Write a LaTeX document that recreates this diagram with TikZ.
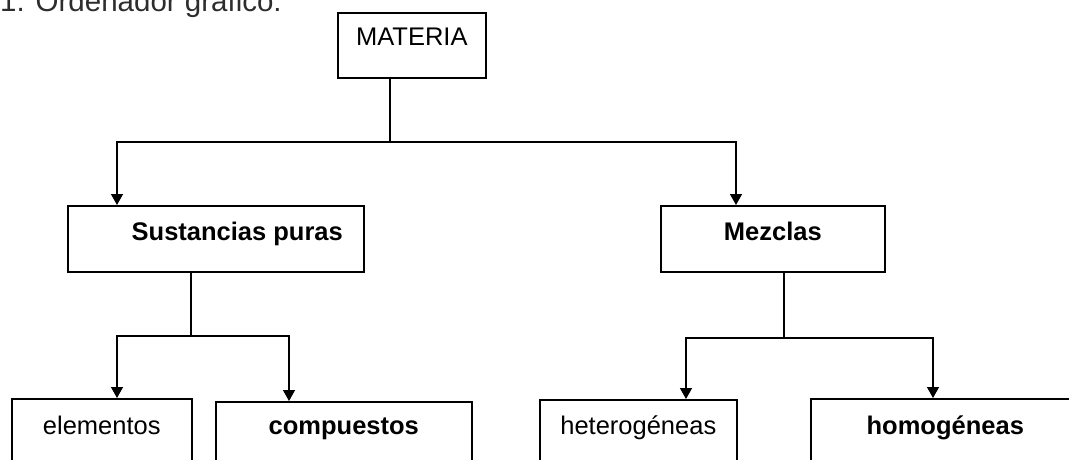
\documentclass[tikz,border=0pt]{standalone}
\usepackage{fontspec}
\setmainfont{Liberation Sans}
\usetikzlibrary{arrows.meta}
\definecolor{titulogris}{RGB}{45,45,45}
\tikzset{
	caja/.style={draw, line width=1.6pt, inner xsep=0pt, inner ysep=0pt,
		minimum height=0pt, anchor=north west, font=\fontsize{25.5}{30}\selectfont},
	linea/.style={line width=1.4pt},
	flecha/.style={line width=1.4pt, -{Triangle[width=12pt,length=11pt]}}
}
\begin{document}
\begin{tikzpicture}[x=1pt, y=-1pt]
	\useasboundingbox (0,0) rectangle (1069,460);
	% title, cut by the top edge
	\node[anchor=base west, inner sep=0pt, text=titulogris,
		font=\fontsize{29.5}{35}\selectfont] (titulo) at (0,12) {1. Ordenador gráfico:};
	\node[caja, minimum width=148pt, text height=33pt, text depth=32pt] (materia) at (337,12) {MATERIA};
	\node[caja, minimum width=296pt, text height=35pt, text depth=31pt] (sust) at (67,205)
		{\bfseries\hspace*{43pt}Sustancias puras};
	\node[caja, minimum width=224pt, text height=35pt, text depth=31pt] (mezc) at (660,205) {\bfseries Mezclas};
	\node[caja, minimum width=180pt, text height=36pt, text depth=40pt] (elem) at (11,398) {elementos};
	\node[caja, minimum width=256pt, text height=33pt, text depth=40pt] (comp) at (215,401) {\bfseries compuestos};
	\node[caja, minimum width=197pt, text height=35pt, text depth=40pt] (hete) at (539,399) {heterogéneas};
	\node[caja, minimum width=269pt, text height=36pt, text depth=40pt] (homo) at (810,398) {\bfseries homogéneas};
	% MATERIA -> two branches
	\coordinate (j1) at (390,142);
	\draw[linea] (materia.south -| j1) -- (j1);
	\draw[flecha] (j1) -| ([xshift=50pt]sust.north west);
	\draw[flecha] (j1) -| ([xshift=76pt]mezc.north west);
	% Sustancias puras
	\coordinate (j2) at (191,336);
	\draw[linea] (sust.south -| j2) -- (j2);
	\draw[flecha] (j2) -| ([xshift=106pt]elem.north west);
	\draw[flecha] (j2) -| ([xshift=74pt]comp.north west);
	% Mezclas
	\coordinate (j3) at (784,338);
	\draw[linea] (mezc.south -| j3) -- (j3);
	\draw[flecha] (j3) -| ([xshift=147pt]hete.north west);
	\draw[flecha] (j3) -| ([xshift=123pt]homo.north west);
\end{tikzpicture}
\end{document}
